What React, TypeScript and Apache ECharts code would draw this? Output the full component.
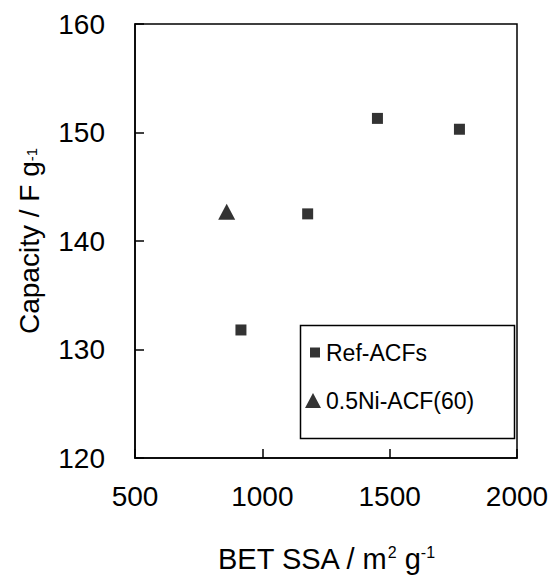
import React, { useEffect, useRef } from "react";
import * as echarts from "echarts";

const refX = [916, 1178, 1452, 1774];
const refY = [131.8, 142.5, 151.3, 150.3];
const niX = [860];
const niY = [142.7];
const seriesNames = ["Ref-ACFs", "0.5Ni-ACF(60)"];
const xRange = [500, 2000];
const yRange = [120, 160];

const FONT = "'Liberation Sans', Arial, Helvetica, sans-serif";

export default function App() {
  const ref = useRef<HTMLDivElement>(null);
  useEffect(() => {
    if (!ref.current) return;
    const chart = echarts.init(ref.current, null, { renderer: "svg" });
    const refData = refX.map((x, i) => [x, refY[i]]);
    const niData = niX.map((x, i) => [x, niY[i]]);
    chart.setOption({
      animation: false,
      backgroundColor: "#fff",
      textStyle: { fontFamily: FONT, color: "#000" },
      grid: {
        left: 135,
        right: 39,
        top: 24,
        bottom: 122,
        show: true,
        borderColor: "#000",
        borderWidth: 1.5,
        backgroundColor: "transparent",
      },
      xAxis: {
        type: "value",
        min: xRange[0],
        max: xRange[1],
        interval: 500,
        name: "BET SSA / m{sup|2} g{sup|-1}",
        nameLocation: "middle",
        nameGap: 86,
        nameTextStyle: {
          fontSize: 29,
          color: "#000",
          fontFamily: FONT,
          rich: {
            sup: { fontSize: 16, verticalAlign: "top", padding: [0, 0, 12, 0], fontFamily: FONT, color: "#000" },
          },
        },
        axisLine: { show: true, lineStyle: { color: "#000", width: 1.5 } },
        axisTick: { show: true, inside: true, length: 9, lineStyle: { color: "#000", width: 1.5 } },
        axisLabel: {
          fontSize: 28,
          color: "#000",
          margin: 24,
          fontFamily: FONT,
          formatter: (v: number) => String(v),
        },
        splitLine: { show: false },
      },
      yAxis: {
        type: "value",
        min: yRange[0],
        max: yRange[1],
        interval: 10,
        name: "Capacity / F g{sub|-1}",
        nameLocation: "middle",
        nameGap: 92,
        nameRotate: 90,
        nameTextStyle: {
          fontSize: 28,
          color: "#000",
          fontFamily: FONT,
          rich: {
            sub: { fontSize: 15, verticalAlign: "bottom", padding: [0, 0, 4, 0], fontFamily: FONT, color: "#000" },
          },
        },
        axisLine: { show: true, lineStyle: { color: "#000", width: 1.5 } },
        axisTick: { show: true, inside: true, length: 9, lineStyle: { color: "#000", width: 1.5 } },
        axisLabel: {
          fontSize: 28,
          color: "#000",
          margin: 30,
          fontFamily: FONT,
          formatter: (v: number) => String(v),
        },
        splitLine: { show: false },
      },
      legend: {
        orient: "vertical",
        left: 305,
        top: 341,
        padding: 0,
        itemGap: 25,
        itemWidth: 16,
        itemHeight: 16,
        itemTextGap: 4,
        textStyle: { fontSize: 23, color: "#000", fontFamily: FONT },
        data: [
          { name: seriesNames[0], icon: "path://M0,0M16,16M5,3h10v10h-10z" },
          { name: seriesNames[1], icon: "path://M0,0M16,16M8,0.5L16,15.5L0,15.5Z" },
        ],
      },
      graphic: [
        {
          type: "rect",
          left: 298,
          top: 323,
          shape: { width: 214, height: 113 },
          style: { fill: "none", stroke: "#000", lineWidth: 1.5 },
          z: 10,
        },
      ],
      series: [
        {
          name: seriesNames[0],
          type: "scatter",
          data: refData,
          symbol: "rect",
          symbolSize: 11,
          itemStyle: { color: "#000" },
        },
        {
          name: seriesNames[1],
          type: "scatter",
          data: niData,
          symbol: "triangle",
          symbolSize: [17, 16],
          itemStyle: { color: "#000" },
        },
      ],
    });
    return () => chart.dispose();
  }, []);
  return (
    <div
      ref={ref}
      style={{ position: "absolute", left: 0, top: 0, width: 556, height: 580 }}
    />
  );
}
